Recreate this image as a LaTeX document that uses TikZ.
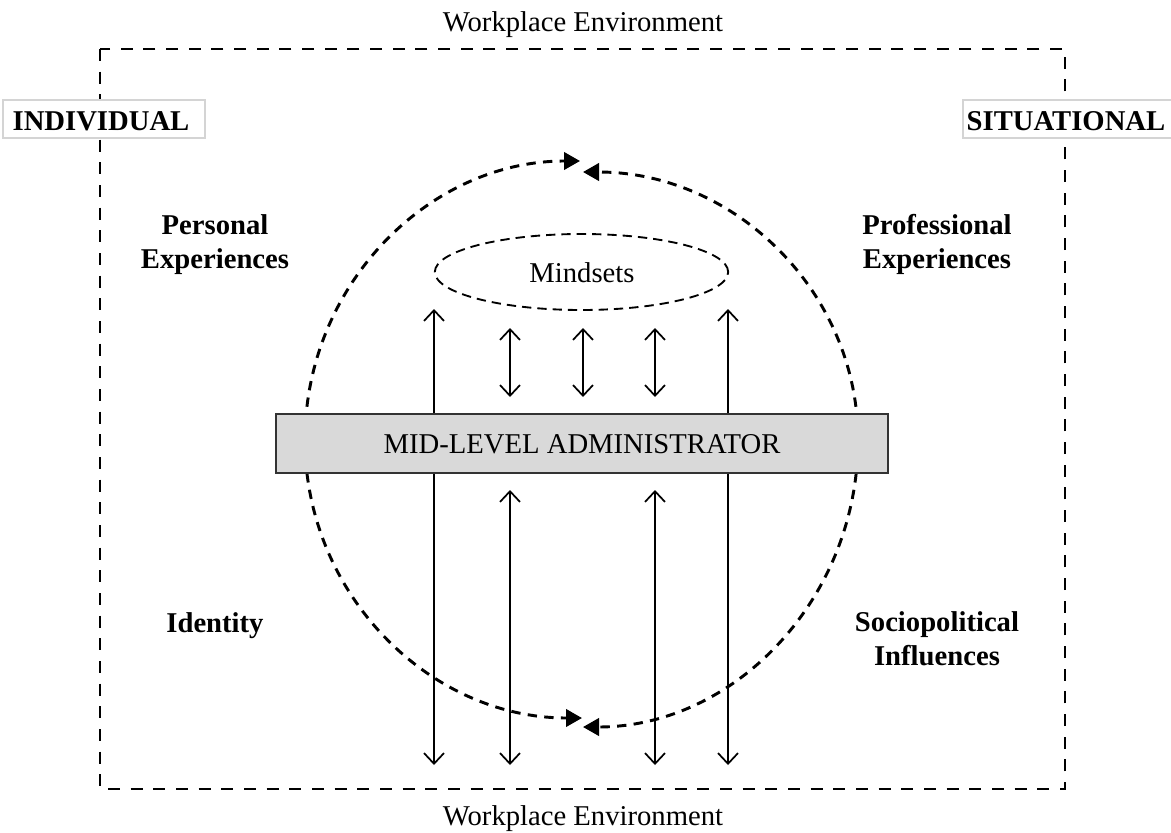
\documentclass[tikz,border=0pt]{standalone}
\usepackage{fontspec}
\setmainfont{Liberation Serif}
\usetikzlibrary{arrows.meta,shapes.geometric}

\begin{document}
\begin{tikzpicture}[x=0.75pt,y=-0.75pt,
  txt/.style={font=\fontsize{21.5}{25}\selectfont, inner sep=0pt, anchor=base},
  lbl/.style={txt, font=\fontsize{21.5}{25}\selectfont\bfseries, align=center},
  tagbox/.style={draw=black!17, line width=0.8pt, fill=white},
  envline/.style={line width=1.5pt, dash pattern=on 9pt off 8pt},
  loop/.style={line width=2.2pt, dash pattern=on 7pt off 5.5pt,
    -{Triangle[length=12pt,width=13pt]}},
  link/.style={line width=1.3pt, {Straight Barb[length=8pt,width=15pt]}-{Straight Barb[length=8pt,width=15pt]}},
  mindring/.style={draw, line width=1.4pt, dash pattern=on 7pt off 4.5pt, ellipse},
  adminbox/.style={draw=black!80, line width=1.6pt, fill=black!15}
]
\clip (0,0) rectangle (1171,832);
\fill[white] (0,0) rectangle (1171,832);

% workplace frame
\draw[envline] (100,49) rectangle (1065,789);
\node[txt] (envtop) at (583,31) {Workplace Environment};
\node[txt] (envbot) at (583,825) {Workplace Environment};

% side tags
\draw[tagbox] (3,100) rectangle (205,138);
\node[txt, font=\fontsize{21.5}{25}\selectfont\bfseries] (indiv) at (101,130) {INDIVIDUAL};
\draw[tagbox] (963,100) rectangle (1180,138);
\node[txt, font=\fontsize{21.5}{25}\selectfont\bfseries] (situ) at (1066,130) {SITUATIONAL};

% corner labels (anchored on the baseline of their last line)
\node[lbl] (pers) at (215,268) {Personal\\Experiences};
\node[lbl] (prof) at (937,268) {Professional\\Experiences};
\node[lbl] (ident) at (215,632) {Identity};
\node[lbl] (socio) at (937,665) {Sociopolitical\\Influences};

% circular flow around the administrator
\draw[loop] (305,440) arc[start angle=180, end angle=270, x radius=275, y radius=279];
\draw[loop] (858,440) arc[start angle=0, end angle=-90, x radius=275, y radius=268];
\draw[loop] (305,440) arc[start angle=180, end angle=90, x radius=277, y radius=278];
\draw[loop] (858,440) arc[start angle=0, end angle=90, x radius=275, y radius=287];

% mindsets
\node[mindring, minimum width=220pt, minimum height=57pt, inner sep=0pt] (mind) at (581.5,272) {};
\node[txt] (mindtxt) at (582,282) {Mindsets};

% endpoints of the vertical links
\coordinate (l1t) at (434,309); \coordinate (l1b) at (434,765);
\coordinate (l2t) at (728,309); \coordinate (l2b) at (728,765);
\coordinate (s1t) at (510,328); \coordinate (s1b) at (510,397);
\coordinate (s2t) at (583,328); \coordinate (s2b) at (583,397);
\coordinate (s3t) at (655,328); \coordinate (s3b) at (655,397);
\coordinate (b1t) at (510,490); \coordinate (b1b) at (510,765);
\coordinate (b2t) at (655,490); \coordinate (b2b) at (655,765);

\draw[link] (l1t) -- (l1b);
\draw[link] (l2t) -- (l2b);
\draw[link] (s1t) -- (s1b);
\draw[link] (s2t) -- (s2b);
\draw[link] (s3t) -- (s3b);
\draw[link] (b1t) -- (b1b);
\draw[link] (b2t) -- (b2b);

% administrator bar
\node[adminbox, minimum width=459pt, minimum height=44pt, inner sep=0pt] (admin) at (582,443.5) {};
\node[txt] (admintxt) at (582,453) {MID-LEVEL ADMINISTRATOR};
\end{tikzpicture}
\end{document}
